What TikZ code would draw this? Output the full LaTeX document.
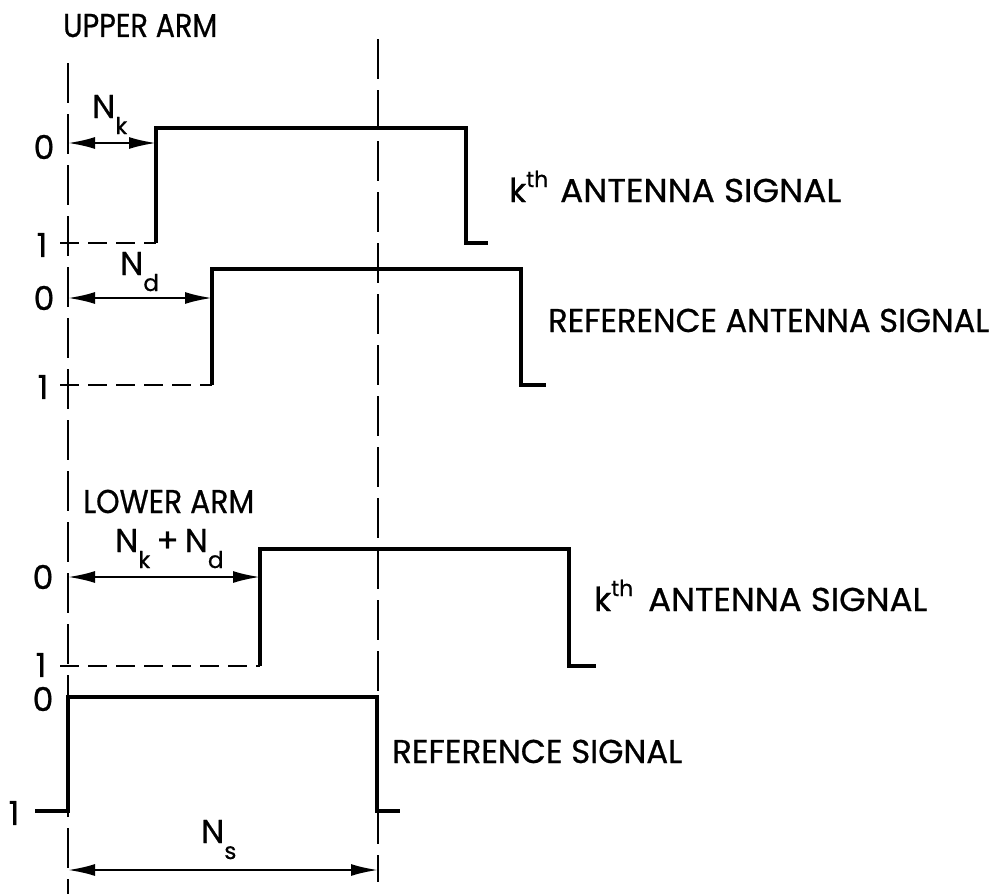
\documentclass[tikz,border=0pt]{standalone}
\usepackage{fontspec}
\setmainfont{Poppins}[FakeBold=0.7]
\usetikzlibrary{arrows.meta}
\newcommand{\fitw}[2]{\resizebox{#1}{\height}{#2}}
\newcommand{\subl}[1]{\raisebox{-16pt}{\fontsize{23}{23}\selectfont #1}}
\newcommand{\supl}[1]{\raisebox{15pt}{\fontsize{22}{22}\selectfont #1}}
\begin{document}
\begin{tikzpicture}[x=1pt,y=-1pt,
  sig/.style={line width=3.4pt},
  guide/.style={line width=2.2pt, dash pattern=on 40pt off 11pt},
  lvl/.style={line width=2.4pt, dash pattern=on 19pt off 9pt},
  dim/.style={line width=2.2pt, {Latex[length=27pt,width=12pt]}-{Latex[length=27pt,width=12pt]}},
  lbl/.style={inner sep=0pt, font=\fontsize{33}{35}\selectfont}]
\useasboundingbox (0,0) rectangle (999,894);

% guide lines
\draw[guide] (68,63) -- (68,894);
\draw[guide] (378,39) -- (378,882);

% titles
\node[lbl, anchor=base west] (upper) at (63,37) {\fitw{154pt}{UPPER ARM}};
\node[lbl, anchor=base west] (lower) at (83,513) {\fitw{171pt}{LOWER ARM}};

% signal 1: k-th antenna (upper)
\draw[lvl] (60,243) -- (156,243);
\draw[sig] (156,243) -- (156,128) -- (466,128) -- (466,243) -- (488,243);
\node[lbl] (z1) at (44,147) {0};
\node[lbl] (o1) at (42,245) {1};
\coordinate (a1l) at (68,143);
\coordinate (a1r) at (156,143);
\draw[dim] (a1l) -- (a1r);
\node[lbl, anchor=base west] (Nk) at (92,118) {N\subl{k}};
\node[lbl, anchor=base west] (k1) at (509,202) {k\supl{th}};
\node[lbl, anchor=base west] (ant1) at (560,202) {\fitw{281pt}{ANTENNA SIGNAL}};

% signal 2: reference antenna (upper)
\draw[lvl] (60,385) -- (212,385);
\draw[sig] (212,385) -- (212,269) -- (521,269) -- (521,385) -- (546,385);
\node[lbl] (z2) at (44,298) {0};
\node[lbl] (o2) at (43,387) {1};
\coordinate (a2l) at (68,298);
\coordinate (a2r) at (212,298);
\draw[dim] (a2l) -- (a2r);
\node[lbl, anchor=base west] (Nd) at (120,275) {N\subl{d}};
\node[lbl, anchor=base west] (refant) at (548,332) {\fitw{441pt}{REFERENCE ANTENNA SIGNAL}};

% signal 3: k-th antenna (lower)
\draw[lvl] (60,666) -- (260,666);
\draw[sig] (260,666) -- (260,549) -- (569,549) -- (569,666) -- (596,666);
\node[lbl] (z3) at (43,577) {0};
\node[lbl] (o3) at (41,665) {1};
\coordinate (a3l) at (68,577);
\coordinate (a3r) at (260,577);
\draw[dim] (a3l) -- (a3r);
\node[lbl, anchor=base west] (Nkd) at (115,552) {N\subl{k}\hspace{6pt}+\hspace{6pt}N\subl{d}};
\node[lbl, anchor=base west] (k2) at (594,611) {k\supl{th}};
\node[lbl, anchor=base west] (ant2) at (648,611) {\fitw{279pt}{ANTENNA SIGNAL}};

% reference signal
\draw[sig] (35,811) -- (68,811) -- (68,697) -- (377,697) -- (377,811) -- (400,811);
\node[lbl] (z4) at (43,699) {0};
\node[lbl] (o4) at (14,813) {1};
\coordinate (a4l) at (68,870);
\coordinate (a4r) at (378,870);
\draw[dim] (a4l) -- (a4r);
\node[lbl, anchor=base west] (Ns) at (201,843) {N\subl{s}};
\node[lbl, anchor=base west] (refsig) at (392,763) {\fitw{290pt}{REFERENCE SIGNAL}};
\end{tikzpicture}
\end{document}
